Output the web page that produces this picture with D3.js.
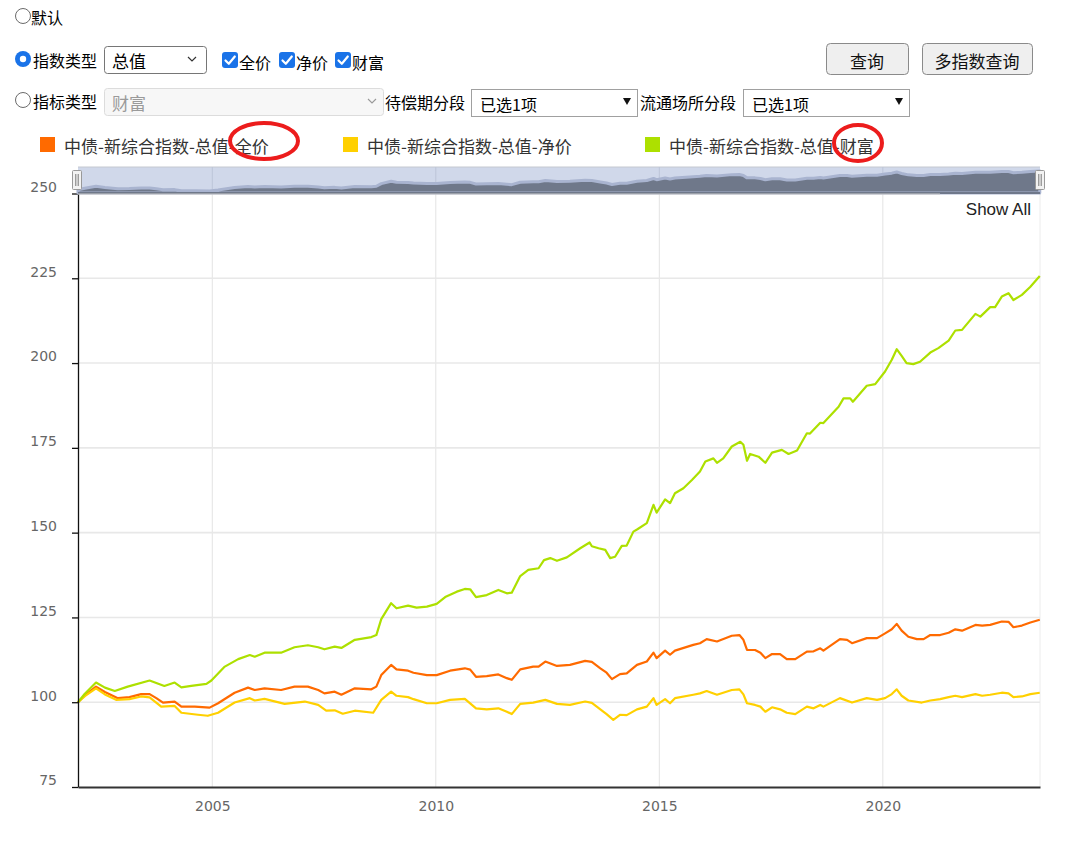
<!DOCTYPE html>
<html><head><meta charset="utf-8">
<script src="https://cdn.jsdelivr.net/npm/d3@7"></script>
<style>
html,body{margin:0;padding:0;background:#fff;}
svg{display:block;}
</style></head>
<body>
<svg id="c" width="1080" height="846"></svg>
<script>
// ---------- DATA ----------
const seriesNames = ["中债-新综合指数-总值-全价", "中债-新综合指数-总值-净价", "中债-新综合指数-总值-财富"];
const yTicks = [75, 100, 125, 150, 175, 200, 225, 250];
const xTickYears = [2005, 2010, 2015, 2020];

const fullTimes = [2001.997,2002.15,2002.40,2002.60,2002.89,2003.15,2003.41,2003.60,2003.75,2003.90,2004.16,2004.31,2004.61,2004.94,2005.13,2005.50,2005.80,2005.95,2006.17,2006.54,2006.84,2007.14,2007.37,2007.51,2007.74,2007.89,2008.19,2008.56,2008.67,2008.78,2009.00,2009.12,2009.38,2009.50,2009.80,2010.02,2010.32,2010.65,2010.77,2010.90,2011.14,2011.40,2011.59,2011.70,2011.89,2012.18,2012.30,2012.45,2012.71,2013.00,2013.34,2013.49,2013.68,2013.82,2013.94,2014.12,2014.27,2014.50,2014.72,2014.87,2014.94,2015.13,2015.24,2015.35,2015.76,2015.91,2016.06,2016.29,2016.62,2016.79,2016.88,2016.96,2017.14,2017.26,2017.37,2017.52,2017.70,2017.85,2018.04,2018.30,2018.45,2018.60,2018.67,2019.04,2019.20,2019.31,2019.64,2019.87,2020.05,2020.20,2020.31,2020.42,2020.57,2020.76,2020.91,2021.06,2021.28,2021.47,2021.62,2021.77,2022.07,2022.22,2022.40,2022.66,2022.81,2022.92,2023.11,2023.30,2023.51];
const fullValues = [100,102.0,104.6,103.0,101.2,101.5,102.4,102.4,101.2,99.9,100.2,98.7,98.7,98.4,99.7,102.8,104.3,103.6,104.1,103.6,104.6,104.6,103.6,102.6,103.1,102.2,104.1,103.8,104.6,108.0,111.0,109.7,109.3,108.7,108.0,108.0,109.3,110.0,109.6,107.5,107.7,108.2,107.1,106.6,109.7,110.5,110.5,112.0,110.7,111.0,112.2,111.9,110.0,108.7,106.8,108.3,108.5,111.0,112.0,114.6,113.0,115.2,114.0,115.2,116.9,117.4,118.6,117.9,119.6,119.8,118.4,115.4,115.4,114.6,113.0,114.2,114.2,112.7,112.7,114.9,115.0,115.9,115.2,118.6,118.4,117.4,118.9,118.9,120.3,121.5,123.1,121.1,119.3,118.6,118.6,119.8,119.8,120.5,121.5,121.1,122.8,122.6,122.8,123.8,123.7,122.1,122.6,123.5,124.3];

const cleanTimes = [2001.997,2002.15,2002.40,2002.60,2002.85,2003.15,2003.41,2003.60,2003.86,2004.16,2004.31,2004.68,2004.90,2005.13,2005.50,2005.84,2005.95,2006.17,2006.62,2007.07,2007.37,2007.55,2007.74,2007.92,2008.19,2008.60,2008.78,2009.00,2009.12,2009.38,2009.50,2009.80,2010.02,2010.32,2010.65,2010.90,2011.14,2011.40,2011.59,2011.70,2011.89,2012.18,2012.45,2012.71,2013.00,2013.34,2013.49,2013.68,2013.82,2013.97,2014.12,2014.27,2014.50,2014.72,2014.87,2014.94,2015.13,2015.24,2015.35,2015.76,2015.91,2016.06,2016.29,2016.62,2016.79,2016.88,2016.96,2017.14,2017.26,2017.37,2017.52,2017.70,2017.85,2018.04,2018.30,2018.45,2018.60,2018.67,2019.04,2019.31,2019.64,2019.87,2020.05,2020.20,2020.31,2020.42,2020.57,2020.87,2021.06,2021.28,2021.47,2021.62,2021.77,2022.07,2022.22,2022.40,2022.66,2022.81,2022.92,2023.11,2023.30,2023.51];
const cleanValues = [100,101.8,104.1,102.3,100.7,100.9,101.7,101.4,98.7,98.9,96.9,96.3,96.0,96.9,99.9,101.2,100.5,101.0,99.5,100.2,99.2,97.5,97.6,96.6,97.5,96.9,100.7,103.1,101.9,101.5,100.9,99.7,99.7,100.7,101.0,98.2,97.9,98.2,97.2,96.5,99.5,99.9,100.7,99.5,99.2,100.2,99.8,97.9,96.5,94.8,96.3,96.2,97.9,98.7,101.2,99.2,100.9,99.7,101.2,102.2,102.6,103.3,102.2,103.6,103.8,102.3,99.7,99.2,98.7,97.2,98.5,97.9,96.9,96.5,98.7,98.2,99.2,98.7,101.2,99.9,101.2,100.7,101.2,102.4,103.8,101.9,100.5,99.9,100.5,100.9,101.5,101.9,101.5,102.4,101.9,102.2,102.8,102.6,101.5,101.7,102.4,102.8];

const wealthTimes = [2001.997,2002.15,2002.40,2002.60,2002.82,2003.11,2003.60,2003.93,2004.16,2004.31,2004.53,2004.87,2004.98,2005.28,2005.58,2005.84,2005.95,2006.17,2006.54,2006.84,2007.14,2007.37,2007.51,2007.74,2007.89,2008.19,2008.56,2008.67,2008.78,2009.00,2009.12,2009.38,2009.57,2009.80,2010.02,2010.21,2010.47,2010.65,2010.77,2010.90,2011.14,2011.40,2011.59,2011.70,2011.89,2012.07,2012.30,2012.42,2012.56,2012.71,2012.93,2013.23,2013.44,2013.49,2013.64,2013.79,2013.90,2014.01,2014.16,2014.27,2014.42,2014.51,2014.72,2014.87,2014.94,2015.13,2015.24,2015.35,2015.54,2015.73,2015.91,2016.03,2016.21,2016.29,2016.43,2016.62,2016.81,2016.88,2016.96,2017.03,2017.22,2017.37,2017.52,2017.74,2017.89,2018.08,2018.30,2018.37,2018.60,2018.67,2019.01,2019.12,2019.27,2019.33,2019.64,2019.83,2020.05,2020.20,2020.31,2020.42,2020.53,2020.68,2020.83,2021.06,2021.24,2021.47,2021.62,2021.77,2022.07,2022.18,2022.40,2022.51,2022.66,2022.81,2022.92,2023.11,2023.30,2023.51];
const wealthValues = [100,102.5,105.8,104.3,103.3,104.6,106.4,104.8,105.8,104.4,104.8,105.4,106.4,110.5,112.7,113.9,113.4,114.6,114.6,116.2,116.8,116.2,115.6,116.4,116.0,118.4,119.2,119.8,124.5,129.2,127.7,128.5,127.9,128.2,129.0,131.0,132.6,133.4,133.3,131.0,131.6,133.1,132.1,132.3,137.2,139.0,139.5,141.9,142.5,141.7,142.7,145.4,147.1,146.0,145.4,144.9,142.5,142.9,146.1,146.2,150.3,151.0,152.8,158.2,155.9,159.8,158.7,161.6,163.1,165.5,168.0,171.0,171.9,170.6,171.9,175.4,176.8,175.9,171.2,173.2,172.4,170.6,173.6,174.4,173.2,174.2,179.3,179.2,182.4,182.3,187.1,189.6,189.6,188.6,193.3,193.8,197.5,201.0,204.1,202.1,200.0,199.7,200.4,203.1,204.4,206.6,209.6,209.8,214.5,213.7,216.5,216.5,219.6,220.6,218.6,220.1,222.5,225.7];

const seriesColors = ["#ff6a00", "#ffd000", "#ade000"];

// ---------- HELPERS ----------
function decToDate(d) {
  const y = Math.floor(d);
  const s = new Date(y, 0, 1), e = new Date(y + 1, 0, 1);
  return new Date(+s + (d - y) * (e - s));
}
const series = [
  { name: seriesNames[0], color: seriesColors[0], pts: fullTimes.map((t, i) => ({ d: decToDate(t), v: fullValues[i] })) },
  { name: seriesNames[1], color: seriesColors[1], pts: cleanTimes.map((t, i) => ({ d: decToDate(t), v: cleanValues[i] })) },
  { name: seriesNames[2], color: seriesColors[2], pts: wealthTimes.map((t, i) => ({ d: decToDate(t), v: wealthValues[i] })) }
];

const CJK = "'Noto Sans CJK SC','Noto Sans',sans-serif";
const NUM = "'DejaVu Sans',sans-serif";
const svg = d3.select("#c");

// ---------- FORM CONTROLS (drawn) ----------
const form = svg.append("g").attr("font-family", CJK);

function radio(cx, cy, checked) {
  if (checked) {
    form.append("circle").attr("cx", cx).attr("cy", cy).attr("r", 8).attr("fill", "#1a73e8");
    form.append("circle").attr("cx", cx).attr("cy", cy).attr("r", 3.2).attr("fill", "#fff");
  } else {
    form.append("circle").attr("cx", cx).attr("cy", cy).attr("r", 7.5).attr("fill", "#fff").attr("stroke", "#6b6b6b").attr("stroke-width", 1);
  }
}
function label(x, y, t, size, color) {
  form.append("text").attr("x", x).attr("y", y).attr("font-size", size || 16).attr("fill", color || "#000")
    .attr("dominant-baseline", "central").text(t);
}
function checkbox(x, y) {
  form.append("rect").attr("x", x).attr("y", y).attr("width", 16).attr("height", 16).attr("rx", 3).attr("fill", "#1a73e8");
  form.append("path").attr("d", `M${x+3.5},${y+8.5} L${x+6.8},${y+11.8} L${x+12.8},${y+4.5}`)
    .attr("fill", "none").attr("stroke", "#fff").attr("stroke-width", 2.2).attr("stroke-linecap", "round").attr("stroke-linejoin", "round");
}

radio(23, 16, false); label(31, 17, "默认");
radio(23, 59, true); label(33, 60, "指数类型");
form.append("rect").attr("x", 104.5).attr("y", 46.5).attr("width", 102).attr("height", 27).attr("rx", 3)
  .attr("fill", "#fff").attr("stroke", "#767676");
label(112, 60, "总值", 17);
form.append("path").attr("d", "M188,57 L192,61 L196,57").attr("fill", "none").attr("stroke", "#333").attr("stroke-width", 1.2);

checkbox(222, 52); label(239, 62, "全价");
checkbox(279, 52); label(296, 62, "净价");
checkbox(335, 52); label(352, 62, "财富");

function button(x, w, t) {
  form.append("rect").attr("x", x + 0.5).attr("y", 43.5).attr("width", w).attr("height", 31).attr("rx", 4)
    .attr("fill", "#efefef").attr("stroke", "#8a8a8a");
  form.append("text").attr("x", x + w / 2).attr("y", 60).attr("text-anchor", "middle").attr("dominant-baseline", "central")
    .attr("font-size", 17).attr("fill", "#111").text(t);
}
button(826, 82, "查询");
button(922, 110, "多指数查询");

radio(23, 100, false); label(33, 101, "指标类型");
form.append("rect").attr("x", 104.5).attr("y", 88.5).attr("width", 279).attr("height", 27).attr("rx", 3)
  .attr("fill", "#f7f7f7").attr("stroke", "#dcdcdc");
label(112, 102, "财富", 17, "#9a9a9a");
form.append("path").attr("d", "M368,99 L372,103 L376,99").attr("fill", "none").attr("stroke", "#999").attr("stroke-width", 1.1);
label(385, 102, "待偿期分段");
form.append("rect").attr("x", 471.5).attr("y", 89.5).attr("width", 166).attr("height", 27)
  .attr("fill", "#fff").attr("stroke", "#a0a0a0");
label(480, 104, "已选1项");
form.append("path").attr("d", "M623,98 L631,98 L627,105 Z").attr("fill", "#111");
label(640, 102, "流通场所分段");
form.append("rect").attr("x", 743.5).attr("y", 89.5).attr("width", 166).attr("height", 27)
  .attr("fill", "#fff").attr("stroke", "#a0a0a0");
label(752, 104, "已选1项");
form.append("path").attr("d", "M895,98 L903,98 L899,105 Z").attr("fill", "#111");

// ---------- LEGEND ----------
const legendX = [40, 343, 645];
const leg = svg.append("g").attr("font-family", CJK);
series.forEach((s, i) => {
  leg.append("rect").attr("x", legendX[i]).attr("y", 137).attr("width", 15).attr("height", 15).attr("fill", s.color);
  leg.append("text").attr("x", legendX[i] + 24).attr("y", 145).attr("dominant-baseline", "central")
    .attr("font-size", 17).attr("fill", "#333").text(s.name);
});

// ---------- SCALES ----------
const plot = { left: 78, right: 1040, top: 193.5, bottom: 787 };
const x = d3.scaleTime().domain([new Date(2001, 11, 31), new Date(2023, 6, 8)]).range([plot.left, plot.right]);
const y = d3.scaleLinear().domain([75, 250]).range([plot.bottom, plot.top]);

const chart = svg.append("g");

// grid
chart.append("g").selectAll("line").data(xTickYears).join("line")
  .attr("x1", d => x(new Date(d, 0, 1))).attr("x2", d => x(new Date(d, 0, 1)))
  .attr("y1", plot.top).attr("y2", plot.bottom).attr("stroke", "#e3e3e3").attr("stroke-width", 1);
chart.append("line").attr("x1", plot.right).attr("x2", plot.right).attr("y1", plot.top).attr("y2", plot.bottom)
  .attr("stroke", "#ececec").attr("stroke-width", 1);
chart.append("g").selectAll("line").data(yTicks.filter(v => v > 75 && v < 250)).join("line")
  .attr("x1", plot.left).attr("x2", plot.right).attr("y1", d => y(d)).attr("y2", d => y(d))
  .attr("stroke", "#e8e8e8").attr("stroke-width", 1.6);

// lines
const line = d3.line().x(d => x(d.d)).y(d => y(d.v));
series.forEach(s => {
  chart.append("path").datum(s.pts).attr("d", line).attr("fill", "none")
    .attr("stroke", s.color).attr("stroke-width", 2.2).attr("stroke-linejoin", "round");
});

// axes
const yAxis = d3.axisLeft(y).tickValues(yTicks).tickSize(6).tickSizeOuter(0).tickPadding(15);
const gy = chart.append("g").attr("transform", `translate(${plot.left},0)`).call(yAxis);
gy.select(".domain").attr("stroke", "#111").attr("stroke-width", 1.3);
gy.selectAll(".tick line").attr("stroke", "#111").attr("stroke-width", 1.3);
gy.selectAll(".tick text").attr("font-family", NUM).attr("font-size", 14).attr("fill", "#666").attr("dy", "-0.15em");

const xAxis = d3.axisBottom(x).tickValues(xTickYears.map(yv => new Date(yv, 0, 1))).tickFormat(d3.timeFormat("%Y"))
  .tickSize(0).tickSizeOuter(0).tickPadding(14);
const gx = chart.append("g").attr("transform", `translate(0,${plot.bottom})`).call(xAxis);
gx.select(".domain").attr("stroke", "#333").attr("stroke-width", 2);
gx.selectAll(".tick text").attr("font-family", NUM).attr("font-size", 14).attr("fill", "#666");

// Show All
chart.append("text").attr("x", 1031).attr("y", 209).attr("text-anchor", "end").attr("dominant-baseline", "central")
  .attr("font-family", "'Liberation Sans',Arial,sans-serif").attr("font-size", 17).attr("fill", "#222").text("Show All");

// ---------- NAVIGATOR ----------
const nav = svg.append("g");
const navTop = 167, navBottom = 193;
nav.append("rect").attr("x", plot.left).attr("y", navTop).attr("width", plot.right - plot.left).attr("height", navBottom - navTop)
  .attr("fill", "#d0d8ea");
nav.append("line").attr("x1", plot.left).attr("x2", plot.right).attr("y1", navTop).attr("y2", navTop).attr("stroke", "#c4c8d0");
nav.selectAll("line.ng").data(xTickYears).join("line").attr("class", "ng")
  .attr("x1", d => x(new Date(d, 0, 1))).attr("x2", d => x(new Date(d, 0, 1)))
  .attr("y1", navTop).attr("y2", navBottom).attr("stroke", "#bcc5d8").attr("stroke-width", 1);
const ny = d3.scaleLinear().domain(d3.extent(fullValues)).range([navBottom - 2, navTop + 4]);
const area = d3.area().x(d => x(d.d)).y0(navBottom).y1(d => ny(d.v));
nav.append("path").datum(series[0].pts).attr("d", area).attr("fill", "#6f788a")
  .attr("stroke", "#a9b4d0").attr("stroke-width", 3).attr("stroke-linejoin", "round");
nav.append("rect").attr("x", plot.left).attr("y", navBottom - 1).attr("width", plot.right - plot.left).attr("height", 2).attr("fill", "#6f788a");
nav.append("line").attr("x1", plot.left).attr("x2", plot.right - 100).attr("y1", navBottom + 1).attr("y2", navBottom + 1).attr("stroke", "#c8c8c8");

function handle(cx) {
  nav.append("rect").attr("x", cx - 4.5).attr("y", 170.5).attr("width", 9).attr("height", 19).attr("rx", 1)
    .attr("fill", "#f2f2f2").attr("stroke", "#999");
  nav.append("line").attr("x1", cx - 1.2).attr("x2", cx - 1.2).attr("y1", 174).attr("y2", 186).attr("stroke", "#777");
  nav.append("line").attr("x1", cx + 1.2).attr("x2", cx + 1.2).attr("y1", 174).attr("y2", 186).attr("stroke", "#777");
}
handle(plot.left - 1);
handle(plot.right);

// ---------- RED ANNOTATION ELLIPSES ----------
svg.append("ellipse").attr("cx", 264).attr("cy", 141).attr("rx", 34).attr("ry", 18)
  .attr("fill", "none").attr("stroke", "#ec1c1c").attr("stroke-width", 4);
svg.append("ellipse").attr("cx", 858).attr("cy", 143).attr("rx", 24).attr("ry", 18)
  .attr("fill", "none").attr("stroke", "#ec1c1c").attr("stroke-width", 4);
</script>
</body></html>
